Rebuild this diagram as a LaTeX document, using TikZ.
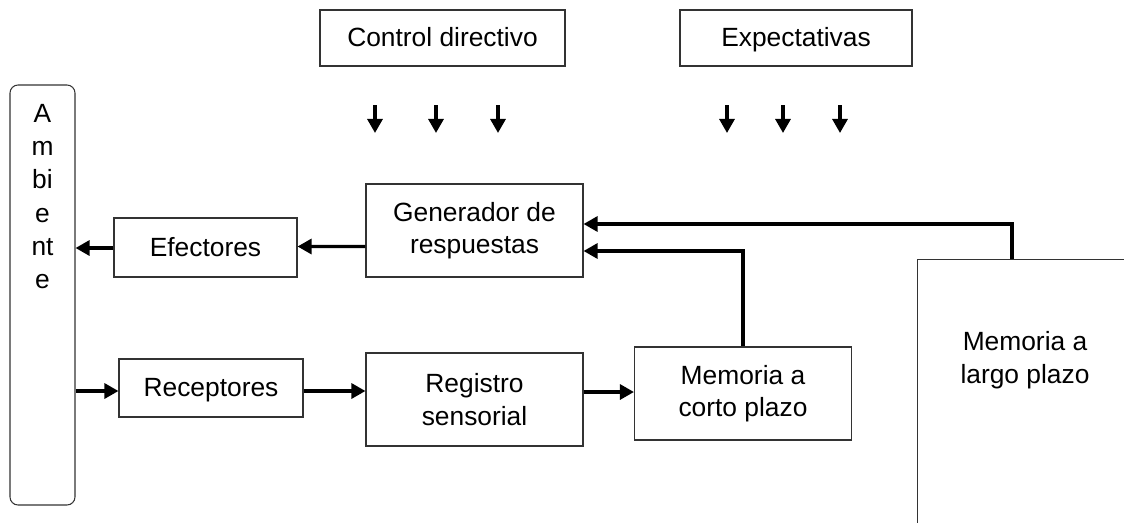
\documentclass[tikz,border=0pt]{standalone}
\usepackage{fontspec}
\setmainfont{Liberation Sans}
\usetikzlibrary{arrows.meta}

\begin{document}
\begin{tikzpicture}[
		caja/.style = {draw=black!80, line width=0.6pt, inner sep=0pt, align=center},
		una-linea/.style = {text height=12pt, text depth=2pt},
		flecha/.style = {line width=1.9pt, -{Triangle[length=8pt,width=8.5pt]}},
		font = \fontsize{15}{18.5}\selectfont
	]
			
			\useasboundingbox (0,0) rectangle (22.48,-10.44);
			
			\node[caja, una-linea, minimum width = 4.9cm, minimum height = 1.12cm]
			(Ctrl-Dir) at (8.85,-0.76) {Control directivo};
			
			\node[caja, una-linea, minimum width = 4.64cm, minimum height = 1.12cm]
			(Expect) at (15.92,-0.76) {Expectativas};
			
			% flechas sueltas bajo las dos cajas de arriba
			\foreach \x [count=\i] in {7.5,8.72,9.96,14.54,15.66,16.8} {
				\coordinate (Baja-Ini-\i) at (\x,-2.1);
				\coordinate (Baja-Fin-\i) at (\x,-2.66);
				\draw[flecha] (Baja-Ini-\i) -- (Baja-Fin-\i);
			}
			
			\node[caja, rounded corners = 0.16cm, minimum width = 1.3cm, minimum height = 8.4cm]
			(Ambiente) at (0.85,-5.9) {};
			\node[align=center, inner sep=0pt, font=\fontsize{15}{18.9}\selectfont]
			(Ambiente-Txt) at (0.85,-3.93) {A\\m\\bi\\e\\nt\\e};
			
			\node[caja, minimum width = 4.34cm, minimum height = 1.86cm]
			(Gen-Resp) at (9.49,-4.61) {Generador de\\respuestas};
			
			\node[caja, una-linea, minimum width = 3.66cm, minimum height = 1.18cm]
			(Efect) at (4.11,-4.95) {Efectores};
			
			\draw[flecha] ([yshift=-0.32cm]Gen-Resp.west) -- ([yshift=0.02cm]Efect.east);
			\draw[flecha] ([yshift=-0.01cm]Efect.west) -- ([yshift=-0.01cm]Efect.west -| Ambiente.east);
			
			\node[caja, una-linea, minimum width = 3.68cm, minimum height = 1.16cm]
			(Recep) at (4.22,-7.76) {Receptores};
			
			\node[caja, minimum width = 4.34cm, minimum height = 1.86cm]
			(Reg-Sens) at (9.49,-7.99) {Registro\\sensorial};
			
			\node[caja, minimum width = 4.34cm, minimum height = 1.86cm]
			(Mem-Corto) at (14.86,-7.87) {Memoria a\\corto plazo};
			
			\draw[flecha] ([yshift=-0.06cm]Ambiente.east |- Recep.west) -- ([yshift=-0.06cm]Recep.west);
			\draw[flecha] ([yshift=-0.06cm]Recep.east) -- ([yshift=-0.06cm]Reg-Sens.west |- Recep.east);
			\draw[flecha] ([yshift=0.03cm]Reg-Sens.east |- Mem-Corto.west) -- ([yshift=0.03cm]Mem-Corto.west);
			
			% memoria a largo plazo: la caja sigue fuera del dibujo
			\node[caja, anchor = north west, minimum width = 5cm, minimum height = 6cm]
			(Mem-Largo) at (18.34,-5.18) {};
			\node[align=center, inner sep=0pt]
			(Mem-Largo-Txt) at (20.5,-7.2) {Memoria a\\largo plazo};
			\coordinate (Largo-Sal) at (20.24,-5.18);
			
			\draw[flecha] (Mem-Corto.north) |- ([yshift=-0.41cm]Gen-Resp.east);
			\draw[flecha] (Largo-Sal) |- ([yshift=0.13cm]Gen-Resp.east);
			
		\end{tikzpicture}
\end{document}
